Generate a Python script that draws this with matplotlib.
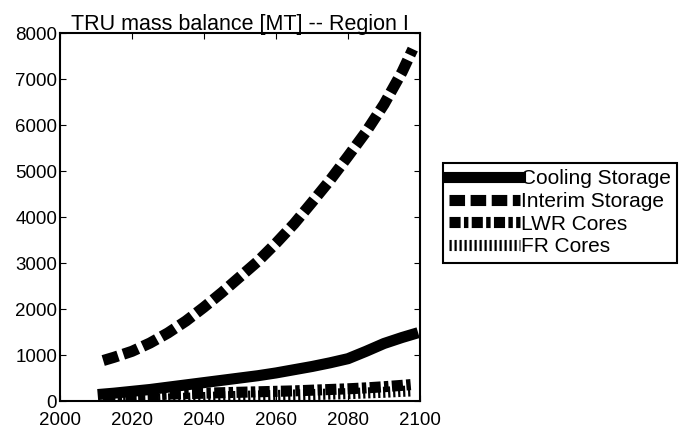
import matplotlib.pyplot as plt

plt.rcParams['font.family'] = ['Liberation Sans', 'DejaVu Sans']

# Years and TRU mass (MT)
years = [2012, 2015, 2020, 2025, 2030, 2035, 2040, 2045, 2050, 2055, 2060,
         2065, 2070, 2075, 2080, 2085, 2090, 2095, 2098]
cooling = [150, 170, 210, 250, 300, 350, 400, 450, 500, 550, 610,
           680, 750, 830, 920, 1080, 1250, 1380, 1450]
interim = [880, 950, 1080, 1260, 1480, 1740, 2040, 2360, 2700, 3040, 3430,
           3850, 4320, 4800, 5320, 5850, 6450, 7150, 7650]
lwr = [100, 110, 120, 135, 150, 160, 170, 180, 190, 200, 210,
       220, 235, 250, 265, 285, 310, 340, 360]
fr = [0, 5, 15, 30, 45, 60, 75, 90, 100, 110, 120,
      130, 140, 150, 160, 175, 190, 210, 220]
labels = ["Cooling Storage", "Interim Storage", "LWR Cores", "FR Cores"]

fig = plt.figure(figsize=(6.87, 4.29), dpi=100)
ax = fig.add_axes([60 / 687, 28 / 429, 360 / 687, 368 / 429])

ax.plot(years, cooling, color="black", lw=8, ls="-", label=labels[0])
ax.plot(years, interim, color="black", lw=8, ls=(0, (1.4, 0.5)), label=labels[1])
ax.plot(years, lwr, color="black", lw=8, ls=(0, (1.0, 0.3, 0.4, 0.3)), label=labels[2])
ax.plot(years, fr, color="black", lw=8, ls=(0, (0.2, 0.25)), label=labels[3])

ax.set_xlim(2000, 2100)
ax.set_ylim(0, 8000)
ax.set_xticks(range(2000, 2101, 20))
ax.set_yticks(range(0, 8001, 1000))
ax.tick_params(direction="in", labelsize=13.5, length=4, top=True, right=True)
ax.tick_params(axis="x", pad=8)
ax.tick_params(axis="y", pad=2)
for s in ax.spines.values():
    s.set_linewidth(1.5)
ax.set_title("TRU mass balance [MT] -- Region I", fontsize=15.5, pad=2)

leg = fig.legend(loc="upper left", bbox_to_anchor=(443 / 687, 1 - 163 / 429),
                 borderaxespad=0, fontsize=15, handlelength=3.4,
                 handletextpad=0.05, borderpad=0.3, labelspacing=0.18,
                 fancybox=False, edgecolor="black", framealpha=1)
leg.get_frame().set_linewidth(1.5)

fig.savefig("out.png", dpi=100)
